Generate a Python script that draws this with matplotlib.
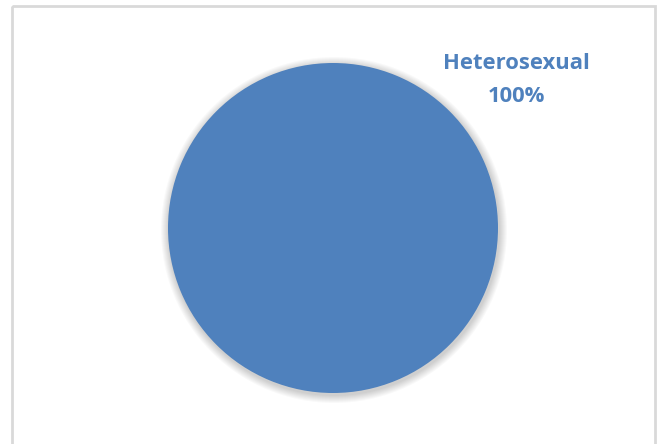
import matplotlib.pyplot as plt
from matplotlib.patches import Rectangle, Circle

categories = ["Heterosexual"]
shares = [100]

W, H = 662, 444
fig = plt.figure(figsize=(W / 100, H / 100), dpi=100)
ax = fig.add_axes([0, 0, 1, 1])
ax.set_xlim(0, W)
ax.set_ylim(H, 0)
ax.set_aspect("equal")
ax.axis("off")

# chart frame
ax.add_patch(Rectangle((12, 6), 643, 460, fill=False, edgecolor="#d9d9d9", lw=2))

cx, cy, r = 333, 228, 165
# soft shadow
for i in range(8):
    ax.add_patch(Circle((cx + 1, cy + 2), r + 8 - i, color="black", alpha=0.025, lw=0))

ax.pie(shares, colors=["#4f81bd"], center=(cx, cy), radius=r, startangle=90,
       counterclock=False, wedgeprops=dict(linewidth=0))
ax.set_xlim(0, W)
ax.set_ylim(H, 0)

for lab, v in zip(categories, shares):
    ax.text(516, 80, f"{lab}\n{v}%", ha="center", va="center", color="#4f81bd",
            fontsize=15.8, fontweight="bold", family="Open Sans", linespacing=1.75)

fig.savefig("out.png", dpi=100)
